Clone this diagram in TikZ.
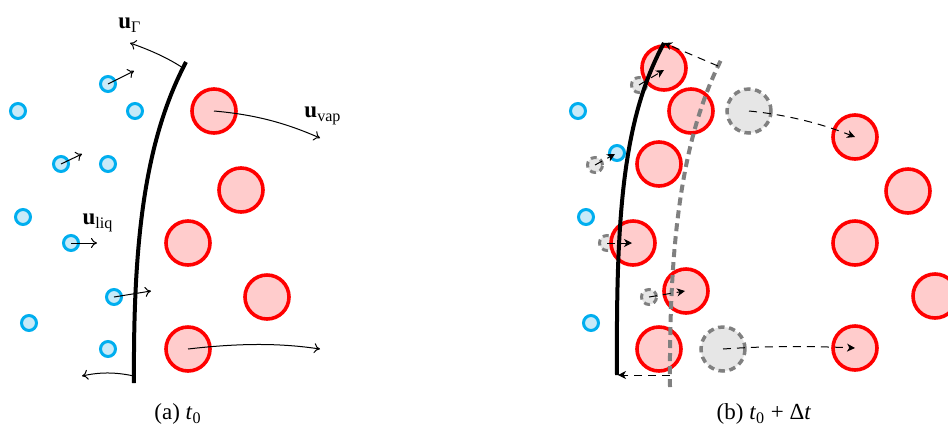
\documentclass[tikz,border=0pt]{standalone}
\usepackage{fontspec}
\setmainfont{Liberation Serif}
\usetikzlibrary{arrows.meta}
\definecolor{redc}{HTML}{FF0000}
\definecolor{redf}{HTML}{FFCCCC}
\definecolor{bluec}{HTML}{00AEEF}
\definecolor{bluef}{HTML}{C8EAF8}
\definecolor{greyc}{HTML}{808080}
\definecolor{greyf}{HTML}{E6E6E6}
\tikzset{
 vap/.style={circle, draw=redc, fill=redf, line width=1.8pt, minimum size=22pt, inner sep=0pt},
 liq/.style={circle, draw=bluec, fill=bluef, line width=1.5pt, minimum size=7.5pt, inner sep=0pt},
 oldvap/.style={circle, draw=greyc, fill=greyf, line width=1.75pt, dash pattern=on 3.2pt off 2.3pt, minimum size=22pt, inner sep=0pt},
 oldliq/.style={circle, draw=greyc, fill=greyf, line width=1.5pt, dash pattern=on 3pt off 2pt, minimum size=7.5pt, inner sep=0pt},
 iface/.style={line width=2pt},
 oldiface/.style={line width=2pt, draw=greyc, dash pattern=on 4pt off 2.5pt},
 vel/.style={line width=0.5pt, -{To[length=3pt,width=5pt]}},
 disp/.style={line width=0.5pt, dash pattern=on 4pt off 3pt, -{Stealth[length=4pt,width=4pt,inset=1.2pt]}},
 lbl/.style={font=\fontsize{11.5}{14}\selectfont, inner sep=0pt},
}
\begin{document}
\begin{tikzpicture}[x=0.5pt,y=-0.5pt]
\useasboundingbox (0,0) rectangle (948,430);
\clip (0,0) rectangle (948,430);

% ---------------- (a) ----------------
\coordinate (ia0) at (134,383);
\coordinate (ia1) at (186,62);
\draw[iface] (ia0) .. controls (133,240) and (145,140) .. (ia1);

\foreach \n/\x/\y in {a1/108/84, a2/18/111, a3/135/111, a4/61/164, a5/108/164, a6/23/217, a7/71/243, a8/114/297, a9/29/323, a10/108/349}
  \node[liq] (l\n) at (\x,\y) {};

\foreach \n/\x/\y in {a1/214/111, a2/241/190, a3/188/243, a4/267/297, a5/188/349}
  \node[vap] (v\n) at (\x,\y) {};

% velocities
\coordinate (gs) at (183,68);
\coordinate (ge) at (130,43);
\draw[vel] (gs) .. controls (168,58) and (150,50) .. (ge);
\coordinate (bs) at (134,376);
\coordinate (be) at (82,376);
\draw[vel] (bs) .. controls (115,372) and (100,372) .. (be);
\coordinate (la1e) at (134,71);
\coordinate (la4e) at (82,154);
\coordinate (la7e) at (97,243);
\coordinate (la8e) at (151,291);
\draw[vel] (la1.center) -- (la1e);
\draw[vel] (la4.center) -- (la4e);
\draw[vel] (la7.center) -- (la7e);
\draw[vel] (la8.center) -- (la8e);
\coordinate (va1e) at (320,138);
\coordinate (va5e) at (320,349);
\draw[vel] (va1.center) .. controls (260,115) and (290,125) .. (va1e);
\draw[vel] (va5.center) .. controls (240,343) and (280,343) .. (va5e);

\node[lbl] (tg) at (130,25) {{\bfseries u}\textsubscript{Γ}};
\node[lbl] (tv) at (323,116) {{\bfseries u}\textsubscript{vap}};
\node[lbl] (tl) at (98,223) {{\bfseries u}\textsubscript{liq}};
\node[lbl] (capa) at (178,414) {(a) \textit{t}\textsubscript{0}};

% ---------------- (b) ----------------
\foreach \n/\x/\y in {1/639/85, 2/595/165, 3/607/243, 4/649/297}
  \node[oldliq] (o\n) at (\x,\y) {};

\foreach \n/\x/\y in {b1/578/111, b2/617/153, b3/586/217, b4/591/323}
  \node[liq] (l\n) at (\x,\y) {};

\foreach \n/\x/\y in {b1/664/68, b2/691/111, b3/659/164, b4/633/243, b5/686/291, b6/659/349, b7/855/137, b8/908/191, b9/855/243, b10/935/296, b11/855/348}
  \node[vap] (v\n) at (\x,\y) {};

\node[oldvap] (g1) at (749,111) {};
\node[oldvap] (g2) at (723,349) {};

\coordinate (ib0) at (617,375);
\coordinate (ib1) at (664,43);
\draw[iface] (ib0) .. controls (616,220) and (622,120) .. (ib1);
\coordinate (ob0) at (670,387);
\coordinate (ob1) at (722,58);
\draw[oldiface] (ob0) .. controls (669,250) and (680,140) .. (ob1);

\coordinate (ots) at (718,66);
\coordinate (obs) at (670,375);
\coordinate (obe) at (618,375);
\draw[disp] (ots) -- (ib1);
\draw[disp] (obs) -- (obe);

\coordinate (o1e) at (664,70);
\coordinate (o2e) at (615,154);
\coordinate (o3e) at (632,243);
\coordinate (o4e) at (685,291);
\draw[disp] (o1.center) -- (o1e);
\draw[disp] (o2.center) -- (o2e);
\draw[disp] (o3.center) -- (o3e);
\draw[disp] (o4.center) -- (o4e);
\draw[disp] (g1.center) .. controls (790,115) and (825,125) .. (vb7.center);
\draw[disp] (g2.center) .. controls (765,346) and (810,346) .. (vb11.center);

\node[lbl] (capb) at (764,414) {(b) \textit{t}\textsubscript{0}\hspace{0.25em}+\hspace{0.25em}Δ\textit{t}};
\end{tikzpicture}
\end{document}
